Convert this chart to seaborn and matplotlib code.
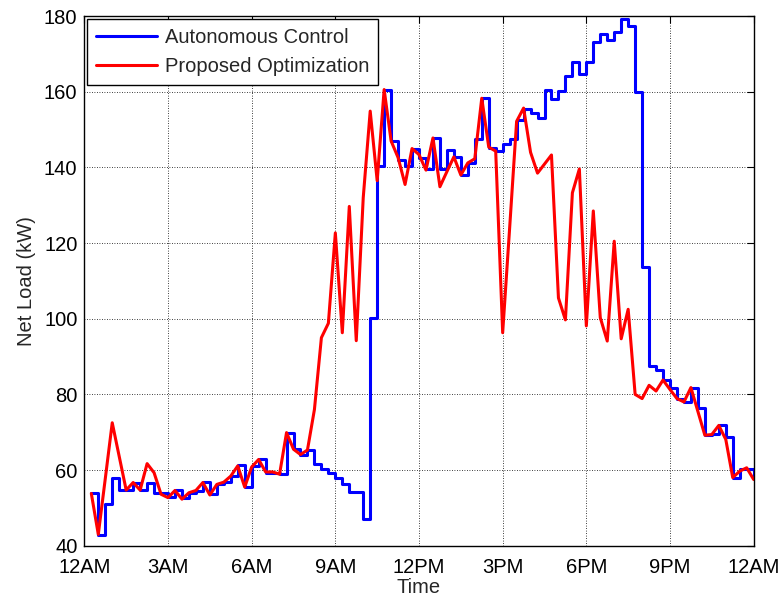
import numpy as np
import pandas as pd
import matplotlib
matplotlib.use("Agg")
import matplotlib.pyplot as plt
import seaborn as sns

# 15-minute samples from 00:15 to 24:00 (hours)
time_h = np.arange(1, 97) * 0.25

autonomous_kw = [
    53.8, 42.8, 50.9, 57.8, 54.7, 54.7, 56.7, 54.7, 56.7, 54.0, 54.0, 53.0,
    54.7, 52.5, 54.0, 54.5, 56.8, 53.6, 56.3, 56.8, 58.5, 61.3, 55.5, 61.0,
    62.8, 59.3, 59.3, 58.9, 69.9, 65.5, 64.1, 65.3, 61.5, 60.2, 59.3, 58.0,
    56.4, 54.2, 54.2, 47.0, 100.1, 140.3, 160.6, 147.0, 142.1, 140.3, 145.0, 142.6,
    139.5, 147.8, 139.7, 144.6, 142.8, 138.1, 141.3, 147.4, 158.4, 145.2, 144.3, 146.2,
    147.5, 152.6, 155.5, 154.4, 153.2, 160.4, 158.2, 160.2, 164.1, 167.8, 164.6, 167.8,
    173.2, 175.4, 173.7, 175.8, 179.3, 177.4, 159.9, 113.7, 87.5, 86.4, 83.8, 81.8,
    78.9, 78.0, 81.8, 76.5, 69.2, 69.4, 71.8, 68.8, 58.0, 60.2, 60.2, 58.0,
]

optimized_kw = [
    53.8, 43.0, 57.7, 72.5, 63.6, 54.7, 56.7, 54.7, 61.7, 59.3, 53.6, 52.7,
    54.6, 52.3, 54.0, 54.6, 56.7, 53.4, 56.2, 56.8, 58.4, 61.1, 55.5, 60.8,
    62.8, 59.5, 59.5, 58.9, 69.9, 65.5, 64.1, 65.3, 76.0, 95.0, 98.8, 122.7,
    96.3, 129.7, 94.2, 132.0, 154.9, 136.5, 160.6, 147.0, 142.6, 135.5, 145.0, 143.4,
    139.3, 147.8, 134.9, 138.9, 142.8, 138.0, 141.2, 142.3, 158.3, 145.4, 144.3, 96.3,
    124.0, 152.2, 155.7, 144.0, 138.5, 140.9, 143.3, 105.5, 99.7, 133.3, 139.6, 98.1,
    128.5, 100.3, 94.1, 120.5, 94.7, 102.5, 80.0, 78.9, 82.4, 80.9, 83.8, 81.3,
    78.9, 78.0, 81.8, 75.5, 69.2, 69.4, 71.8, 68.1, 58.0, 59.7, 60.6, 57.5,
]

tick_hours = [0, 3, 6, 9, 12, 15, 18, 21, 24]
tick_labels = ["12AM", "3AM", "6AM", "9AM", "12PM", "3PM", "6PM", "9PM", "12AM"]

df = pd.DataFrame({"Time": time_h, "Autonomous": autonomous_kw, "Optimized": optimized_kw})

sns.set_theme(style="white")
plt.rcParams["font.family"] = ["Liberation Sans", "DejaVu Sans"]
plt.rcParams.update({
    "font.size": 14.5,
    "xtick.direction": "in",
    "ytick.direction": "in",
    "xtick.top": True,
    "ytick.right": True,
    "xtick.major.size": 5,
    "ytick.major.size": 5,
    "xtick.major.width": 0.8,
    "ytick.major.width": 0.8,
    "xtick.color": "black",
    "ytick.color": "black",
    "axes.edgecolor": "black",
    "axes.linewidth": 1.0,
})

fig = plt.figure(figsize=(7.81, 5.99), dpi=100)
ax = fig.add_axes([0.108, 0.089, 0.857, 0.884])

sns.lineplot(data=df, x="Time", y="Autonomous", ax=ax, color="#0000ff", linewidth=2.2,
             drawstyle="steps-post", label="Autonomous Control")
sns.lineplot(data=df, x="Time", y="Optimized", ax=ax, color="#ff0000", linewidth=2.2,
             label="Proposed Optimization")

ax.set_xlim(0, 24)
ax.set_ylim(40, 180)
ax.set_xticks(tick_hours)
ax.set_xticklabels(tick_labels)
ax.set_yticks(range(40, 181, 20))
ax.tick_params(labelsize=14.5)
ax.tick_params(axis="x", pad=9)
ax.tick_params(axis="y", pad=5)
ax.grid(True, color="black", linestyle=(0, (1, 2)), linewidth=0.6)
for s in ax.spines.values():
    s.set_visible(True)
    s.set_color("black")

ax.set_xlabel("Time", fontsize=14.5, labelpad=0.5)
ax.set_ylabel("Net Load (kW)", fontsize=14.5, labelpad=6)

leg = ax.legend(loc="upper left", fontsize=14.5, frameon=True, fancybox=False, framealpha=1,
                edgecolor="black", handlelength=3.0, handletextpad=0.4, labelspacing=0.5,
                borderaxespad=0.15, borderpad=0.45)
leg.get_frame().set_linewidth(1.0)

fig.savefig("out.png", dpi=100)
